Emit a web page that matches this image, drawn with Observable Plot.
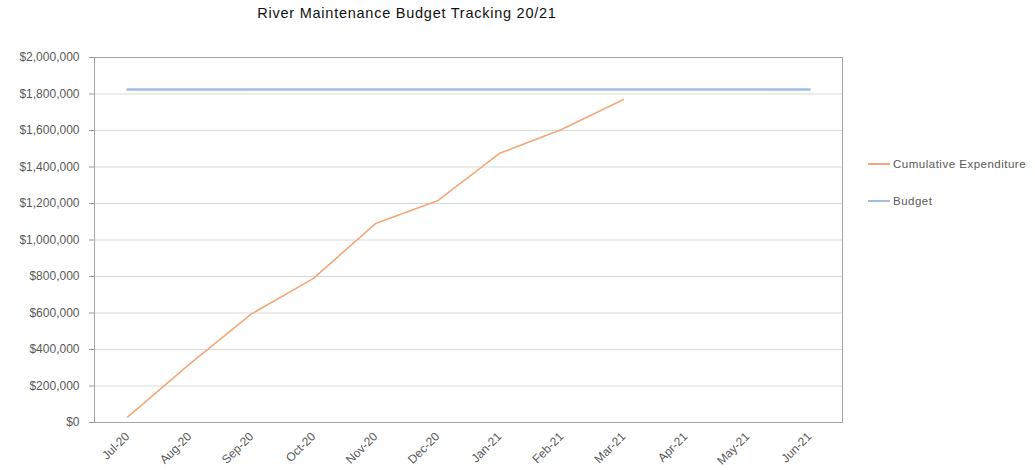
<!DOCTYPE html>
<html>
<head>
<meta charset="utf-8">
<script src="https://cdn.jsdelivr.net/npm/d3@7"></script>
<script src="https://cdn.jsdelivr.net/npm/@observablehq/plot@0.6"></script>
<style>
  html, body { margin: 0; padding: 0; background: #fff; }
  #wrap { position: relative; width: 1035px; height: 470px; font-family: "Liberation Sans", Arial, sans-serif; }
  #title { position: absolute; left: 0; width: 814px; top: 5px; text-align: center; font-size: 14.5px; color: #111; letter-spacing: 0.75px; }
  #legend { position: absolute; left: 868px; top: 155px; font-size: 11.5px; color: #595959; letter-spacing: 0.5px; }
  .item { display: flex; align-items: center; height: 18px; margin-bottom: 19px; }
  .swatch { width: 22px; height: 0; margin-right: 3px; }
  svg text { font-family: "Liberation Sans", Arial, sans-serif; }
</style>
</head>
<body>
<div id="wrap">
  <div id="title">River Maintenance Budget Tracking 20/21</div>
  <div id="legend"></div>
</div>
<script>
const months = ["Jul-20","Aug-20","Sep-20","Oct-20","Nov-20","Dec-20","Jan-21","Feb-21","Mar-21","Apr-21","May-21","Jun-21"];
const expenditureMonths = ["Jul-20","Aug-20","Sep-20","Oct-20","Nov-20","Dec-20","Jan-21","Feb-21","Mar-21"];
const expenditure = [30000, 320000, 595000, 790000, 1090000, 1215000, 1475000, 1605000, 1770000];
const budget = [1825000,1825000,1825000,1825000,1825000,1825000,1825000,1825000,1825000,1825000,1825000,1825000];
const yTicks = [0,200000,400000,600000,800000,1000000,1200000,1400000,1600000,1800000,2000000];
const seriesNames = ["Cumulative Expenditure", "Budget"];
const seriesColors = ["#f2a878", "#9fc0e0"];

const expData = expenditureMonths.map((m, i) => ({month: m, value: expenditure[i]}));
const budData = months.map((m, i) => ({month: m, value: budget[i]}));

const chart = Plot.plot({
  width: 1035,
  height: 470,
  marginLeft: 94,
  marginRight: 193,
  marginTop: 57,
  marginBottom: 48,
  style: {background: "transparent", fontSize: "12px", color: "#595959"},
  x: {type: "point", domain: months, padding: 0.5, label: null},
  y: {domain: [0, 2000000], label: null},
  marks: [
    Plot.gridY(yTicks, {stroke: "#d9d9d9", strokeOpacity: 1, strokeWidth: 1}),
    Plot.frame({stroke: "#a6a6a6"}),
    Plot.axisY({ticks: yTicks, tickFormat: d3.format("$,"), tickSize: 5, tickPadding: 10, stroke: "#999", fill: "#595959", fontSize: 12, label: null}),
    Plot.axisX({tickRotate: -45, tickSize: 0, tickPadding: 12, fill: "#595959", fontSize: 12, label: null}),
    Plot.line(budData, {x: "month", y: "value", stroke: seriesColors[1], strokeWidth: 2.5}),
    Plot.line(expData, {x: "month", y: "value", stroke: seriesColors[0], strokeWidth: 1.6})
  ]
});
document.getElementById("wrap").prepend(chart);
chart.style.position = "absolute";
chart.style.left = "0";
chart.style.top = "0";

const legend = document.getElementById("legend");
seriesNames.forEach((n, i) => {
  const it = document.createElement("div");
  it.className = "item";
  const sw = document.createElement("div");
  sw.className = "swatch";
  sw.style.borderTop = `2px solid ${seriesColors[i]}`;
  const lb = document.createElement("span");
  lb.textContent = n;
  it.append(sw, lb);
  legend.append(it);
});
</script>
</body>
</html>
